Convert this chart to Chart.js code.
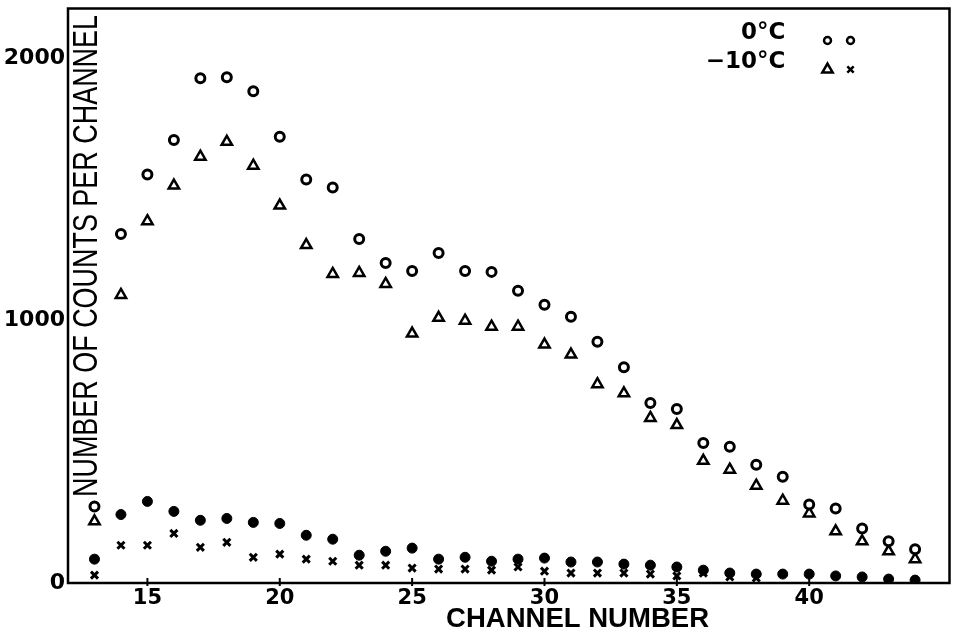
<!DOCTYPE html>
<html lang="en">
<head>
    <meta charset="utf-8">
    <title>Number of counts per channel</title>
    <script src="https://cdn.jsdelivr.net/npm/chart.js@4.4.1/dist/chart.umd.min.js"></script>
    <style>
        html, body { margin: 0; padding: 0; background: #fff; }
        #wrap { width: 958px; height: 636px; position: relative; }
    </style>
</head>
<body>
<div id="wrap"><canvas id="countsChart"></canvas></div>

<script type="text/javascript">

    // values
    const channels = [13, 14, 15, 16, 17, 18, 19, 20, 21, 22, 23, 24, 25, 26, 27, 28,
                      29, 30, 31, 32, 33, 34, 35, 36, 37, 38, 39, 40, 41, 42, 43, 44];

    const counts0C = [292, 1330, 1557, 1689, 1924, 1928, 1875, 1701, 1538, 1508, 1311, 1220, 1189, 1258, 1189, 1186,
                      1114, 1061, 1015, 920, 822, 686, 663, 534, 519, 451, 405, 299, 284, 208, 159, 129];

    const countsMinus10C = [235, 1098, 1379, 1515, 1625, 1682, 1591, 1439, 1288, 1178, 1182, 1140, 951, 1011, 1000, 977,
                            977, 909, 871, 758, 723, 629, 602, 466, 432, 371, 314, 265, 197, 159, 121, 91];

    const counts0CLow = [91, 261, 311, 273, 239, 246, 231, 227, 182, 167, 106, 121, 133, 91, 98, 83,
                         91, 95, 80, 80, 72, 68, 61, 49, 38, 34, 34, 34, 27, 23, 15, 11];

    const countsMinus10CLow = [30, 144, 144, 189, 136, 155, 98, 110, 91, 83, 68, 68, 57, 53, 53, 49,
                               61, 45, 38, 38, 38, 34, 27, 38, 23, 19, null, null, null, null, null, null];

    const xTickValues = [15, 20, 25, 30, 35, 40];
    const yTickValues = [0, 1000, 2000];

    const xTitle = "CHANNEL NUMBER";
    const yTitle = "NUMBER OF COUNTS PER CHANNEL";
    const legendRows = [
        {text: "0°C", marks: ["circle", "circle"]},
        {text: "−10°C", marks: ["triangle", "crossRot"]}
    ];

    function toPoints(values) {
        const points = [];
        for (let i = 0; i < channels.length; i++) {
            if (values[i] !== null) {
                points.push({x: channels[i], y: values[i]});
            }
        }
        return points;
    }

    // frame, axis titles and the hand-made key
    const paperPlugin = {
        id: 'paper',
        afterDraw(chart) {
            const ctx = chart.ctx;
            const a = chart.chartArea;
            const xScale = chart.scales.x;
            ctx.save();
            ctx.strokeStyle = '#000';
            ctx.fillStyle = '#000';

            ctx.lineWidth = 2.5;
            ctx.strokeRect(a.left, a.top, a.right - a.left, a.bottom - a.top);

            ctx.lineWidth = 2;
            xTickValues.forEach(v => {
                const px = xScale.getPixelForValue(v);
                ctx.beginPath();
                ctx.moveTo(px, a.bottom - 5);
                ctx.lineTo(px, a.bottom + 3);
                ctx.stroke();
            });

            // x title, squeezed to the width it has in the figure
            ctx.font = 'bold 27px "Liberation Sans"';
            ctx.textAlign = 'center';
            ctx.textBaseline = 'alphabetic';
            let w = ctx.measureText(xTitle).width;
            ctx.save();
            ctx.translate(a.left + (a.right - a.left) * 0.578, a.bottom + 44);
            ctx.scale(263 / w, 1);
            ctx.fillText(xTitle, 0, 0);
            ctx.restore();

            // y title sits inside the frame, narrow lettering
            ctx.font = '35px "Liberation Sans"';
            w = ctx.measureText(yTitle).width;
            ctx.save();
            ctx.translate(a.left + 29, 256);
            ctx.rotate(-Math.PI / 2);
            ctx.scale(482 / w, 1);
            ctx.fillText(yTitle, 0, 0);
            ctx.restore();

            // key
            ctx.font = 'bold 23px "DejaVu Sans"';
            ctx.textAlign = 'right';
            ctx.textBaseline = 'middle';
            legendRows.forEach((row, i) => {
                const rowY = a.top + 25 + i * 29;
                ctx.fillStyle = '#000';
                ctx.fillText(row.text, a.right - 164, rowY);
                row.marks.forEach((style, j) => {
                    ctx.fillStyle = '#fff';
                    ctx.lineWidth = 2.5;
                    Chart.helpers.drawPoint(ctx, {
                        pointStyle: style,
                        radius: style === 'triangle' ? 6 : (style === 'circle' ? 3.5 : 4.5),
                        rotation: 0,
                        borderWidth: 2.5
                    }, a.right - 122 + j * 23, rowY + 7);
                });
            });

            ctx.restore();
        }
    };

    function pinScale(scale, size) {
        if (scale.isHorizontal()) {
            scale.height = size;
        } else {
            scale.width = size;
        }
        scale.paddingTop = 0;
        scale.paddingBottom = 0;
        scale.paddingLeft = 0;
        scale.paddingRight = 0;
    }

    new Chart("countsChart", {
        type: 'scatter',
        data: {
            datasets: [
                {
                    label: "0°C",
                    data: toPoints(counts0C),
                    pointStyle: 'circle',
                    pointRadius: 4.5,
                    pointBorderWidth: 3,
                    borderColor: '#000',
                    backgroundColor: '#fff'
                },
                {
                    label: "−10°C",
                    data: toPoints(countsMinus10C),
                    pointStyle: 'triangle',
                    pointRadius: 6,
                    pointBorderWidth: 2.5,
                    borderColor: '#000',
                    backgroundColor: '#fff'
                },
                {
                    label: "0°C (lower)",
                    data: toPoints(counts0CLow),
                    pointStyle: 'circle',
                    pointRadius: 5,
                    pointBorderWidth: 1,
                    borderColor: '#000',
                    backgroundColor: '#000'
                },
                {
                    label: "−10°C (lower)",
                    data: toPoints(countsMinus10CLow),
                    pointStyle: 'crossRot',
                    pointRadius: 5,
                    pointBorderWidth: 3,
                    borderColor: '#000',
                    backgroundColor: '#000'
                }
            ]
        },
        options: {
            animation: false,
            responsive: true,
            maintainAspectRatio: false,
            layout: {padding: {top: 5, right: 8, left: 0, bottom: 0}},
            plugins: {
                legend: {display: false},
                tooltip: {enabled: false}
            },
            scales: {
                x: {
                    type: 'linear',
                    min: 12,
                    max: 45.3,
                    grid: {display: false, drawTicks: false},
                    border: {display: false},
                    ticks: {
                        color: '#000',
                        font: {family: 'DejaVu Sans', size: 21, weight: 'bold'},
                        padding: 3,
                        maxRotation: 0,
                        autoSkip: false,
                        callback: v => String(v)
                    },
                    afterBuildTicks: scale => { scale.ticks = xTickValues.map(v => ({value: v})); },
                    afterFit: scale => pinScale(scale, 53)
                },
                y: {
                    min: 0,
                    max: 2190,
                    grid: {display: false, drawTicks: false},
                    border: {display: false},
                    ticks: {
                        color: '#000',
                        font: {family: 'DejaVu Sans', size: 22, weight: 'bold'},
                        padding: 3,
                        callback: v => String(v)
                    },
                    afterBuildTicks: scale => { scale.ticks = yTickValues.map(v => ({value: v})); },
                    afterFit: scale => pinScale(scale, 68)
                }
            }
        },
        plugins: [paperPlugin]
    });

</script>
</body>
</html>
